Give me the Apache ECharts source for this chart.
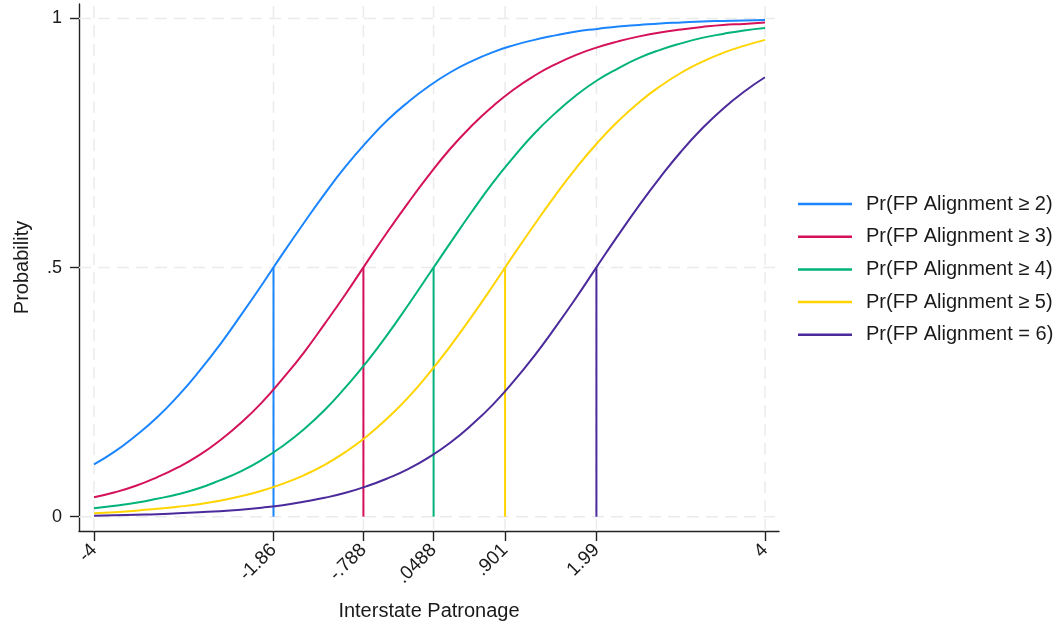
<!DOCTYPE html>
<html>
<head>
<meta charset="utf-8">
<script src="https://cdn.jsdelivr.net/npm/echarts@6/dist/echarts.min.js"></script>
<style>html,body{margin:0;padding:0;background:#fff;}#c{width:1059px;height:629px;}</style>
</head>
<body>
<div id="c"></div>
<script>
const xs = [-4,-3.75,-3.5,-3.25,-3,-2.75,-2.5,-2.25,-2,-1.75,-1.5,-1.25,-1,-0.75,-0.5,-0.25,0,0.25,0.5,0.75,1,1.25,1.5,1.75,2,2.25,2.5,2.75,3,3.25,3.5,3.75,4];
const seriesNames = ['Pr(FP Alignment \u2265 2)','Pr(FP Alignment \u2265 3)','Pr(FP Alignment \u2265 4)','Pr(FP Alignment \u2265 5)','Pr(FP Alignment = 6)'];
const pr2 = [0.105,0.131,0.163,0.199,0.242,0.291,0.345,0.404,0.465,0.528,0.589,0.648,0.703,0.752,0.796,0.833,0.865,0.892,0.914,0.932,0.946,0.957,0.966,0.974,0.979,0.984,0.987,0.990,0.992,0.994,0.995,0.996,0.997];
const pr3 = [0.039,0.049,0.062,0.079,0.099,0.123,0.153,0.188,0.229,0.277,0.329,0.387,0.447,0.510,0.572,0.631,0.687,0.739,0.784,0.823,0.857,0.885,0.908,0.927,0.942,0.954,0.964,0.972,0.978,0.983,0.987,0.989,0.992];
const pr4 = [0.017,0.022,0.028,0.036,0.045,0.057,0.073,0.091,0.114,0.142,0.175,0.214,0.260,0.310,0.366,0.426,0.488,0.550,0.611,0.669,0.721,0.769,0.810,0.846,0.876,0.900,0.921,0.937,0.950,0.961,0.969,0.976,0.981];
const pr5 = [0.007,0.009,0.012,0.016,0.020,0.025,0.032,0.041,0.052,0.066,0.083,0.104,0.130,0.161,0.198,0.240,0.289,0.343,0.401,0.462,0.525,0.586,0.645,0.700,0.750,0.794,0.832,0.864,0.891,0.913,0.931,0.945,0.957];
const pr6 = [0.002,0.003,0.004,0.005,0.007,0.009,0.011,0.014,0.018,0.023,0.030,0.038,0.048,0.061,0.077,0.096,0.120,0.149,0.184,0.224,0.271,0.323,0.380,0.440,0.503,0.565,0.625,0.681,0.733,0.779,0.819,0.853,0.882];
const cutpoints = [-1.86,-0.788,0.0488,0.901,1.99];
const xTickValues = [-4,-1.86,-0.788,0.0488,0.901,1.99,4];
const xTickLabels = ['-4','-1.86','-.788','.0488','.901','1.99','4'];
const yTickValues = [0,0.5,1];
const yTickLabels = ['0','.5','1'];

const X_MIN = -4.179, X_MAX = 4.167, Y_MIN = -0.0287, Y_MAX = 1.029;
const colors = ['#1a85ff','#d41159','#00b37a','#ffd400','#4b2a9b'];
const values = [pr2,pr3,pr4,pr5,pr6];
const FONT = 'Liberation Sans, Arial, Helvetica, sans-serif';

function lookup(vals, labels, v){
  let best=0, bd=Infinity;
  vals.forEach((t,i)=>{const d=Math.abs(t-v); if(d<bd){bd=d;best=i;}});
  return labels[best];
}

const series = [];
const gridStyle = {color:'#ebebeb', width:1.5, type:[12,7]};
xTickValues.forEach((v,i)=>{
  series.push({type:'line', name:'gx'+i, symbol:'none', silent:true, z:1,
    lineStyle:gridStyle, data:[[v,Y_MIN],[v,Y_MAX]]});
});
yTickValues.forEach((v,i)=>{
  series.push({type:'line', name:'gy'+i, symbol:'none', silent:true, z:1,
    lineStyle:gridStyle, data:[[X_MIN,v],[X_MAX,v]]});
});
cutpoints.forEach((c,i)=>{
  series.push({
    name:'cut'+i, type:'line', symbol:'none', z:2, silent:true,
    lineStyle:{color:colors[i], width:2},
    data:[[c,0],[c,0.5]]
  });
});
values.forEach((vals,i)=>{
  series.push({
    name: seriesNames[i], type:'line', symbol:'none', smooth:true, z:3,
    lineStyle:{color:colors[i], width:2}, itemStyle:{color:colors[i]},
    data: xs.map((x,j)=>[x, vals[j]])
  });
});

const chart = echarts.init(document.getElementById('c'), null, {renderer:'canvas'});
chart.setOption({
  animation:false,
  backgroundColor:'#ffffff',
  textStyle:{fontFamily:FONT},
  grid:{left:79, right:280, top:4, bottom:98, containLabel:false},
  legend:{
    orient:'vertical', left:798, top:194, padding:0,
    data: seriesNames.map((n,i)=>({name:n, icon:'rect', itemStyle:{color:colors[i]}})),
    itemWidth:54, itemHeight:2.5, itemGap:12.7,
    textStyle:{fontFamily:FONT, fontSize:20, color:'#1a1a1a', lineHeight:20, padding:[0,0,0,9]},
    selectedMode:false
  },
  xAxis:{
    type:'value', min:X_MIN, max:X_MAX,
    axisLine:{show:true, onZero:false, lineStyle:{color:'#222', width:1.4}},
    axisTick:{show:true, customValues:xTickValues, length:10, lineStyle:{color:'#222', width:1.4}},
    axisLabel:{customValues:xTickValues, rotate:45, margin:16, fontSize:19, color:'#1a1a1a', fontFamily:FONT,
      formatter:(v)=>lookup(xTickValues,xTickLabels,v)},
    splitLine:{show:false},
    name:'Interstate Patronage', nameLocation:'middle', nameGap:70,
    nameTextStyle:{fontSize:20, color:'#1a1a1a', fontFamily:FONT}
  },
  yAxis:{
    type:'value', min:Y_MIN, max:Y_MAX,
    axisLine:{show:true, onZero:false, lineStyle:{color:'#222', width:1.4}},
    axisTick:{show:true, customValues:yTickValues, length:9, lineStyle:{color:'#222', width:1.4}},
    axisLabel:{customValues:yTickValues, margin:17, fontSize:18, color:'#1a1a1a', fontFamily:FONT,
      formatter:(v)=>lookup(yTickValues,yTickLabels,v)},
    splitLine:{show:false},
    name:'Probability', nameLocation:'middle', nameGap:47, nameRotate:90,
    nameTextStyle:{fontSize:20, color:'#1a1a1a', fontFamily:FONT}
  },
  series: series
});
</script>
</body>
</html>
